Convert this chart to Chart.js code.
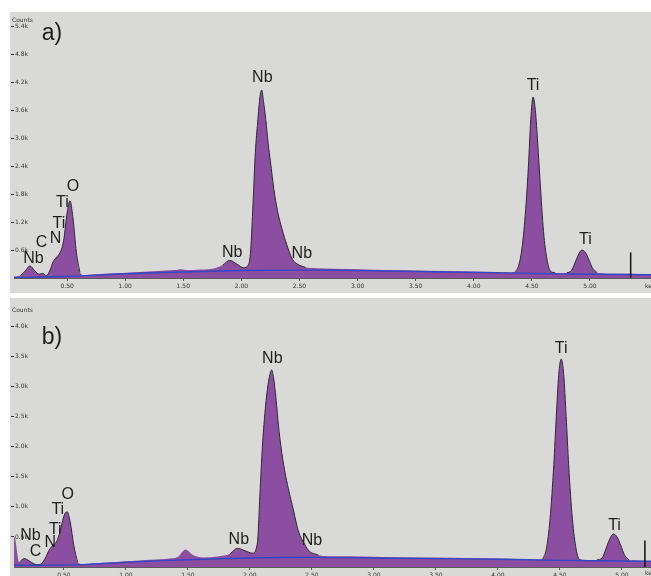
<!DOCTYPE html>
<html>
<head>
<meta charset="utf-8">
<script src="https://cdn.jsdelivr.net/npm/chart.js@4.4.1/dist/chart.umd.min.js"></script>
<style>
  body { margin: 0; background: #ffffff; width: 651px; height: 576px; overflow: hidden; position: relative; }
  canvas { position: absolute; }
  #edsA { left: 10px; top: 12px; }
  #edsB { left: 10px; top: 298px; }
</style>
</head>
<body>
<canvas id="edsA" width="641" height="281"></canvas>
<canvas id="edsB" width="641" height="278"></canvas>
<script>
// energy grid (keV), shared by both spectra
const energy = [0.00, 0.05, 0.10, 0.14, 0.18, 0.22, 0.26, 0.29, 0.32, 0.35, 0.38, 0.41, 0.44, 0.47, 0.50, 0.525, 0.55, 0.58, 0.61, 0.65,
  0.75, 0.90, 1.05, 1.20, 1.35, 1.42, 1.48, 1.54, 1.62, 1.75, 1.84, 1.90, 1.96, 2.02, 2.06, 2.08, 2.10, 2.12, 2.14, 2.16,
  2.175, 2.19, 2.21, 2.23, 2.25, 2.28, 2.31, 2.35, 2.39, 2.44, 2.48, 2.55, 2.65, 2.80, 3.00, 3.25, 3.50, 3.75, 4.00, 4.20,
  4.30, 4.36, 4.39, 4.42, 4.45, 4.47, 4.49, 4.51, 4.53, 4.55, 4.57, 4.60, 4.63, 4.66, 4.70, 4.76, 4.80, 4.84, 4.87, 4.90,
  4.93, 4.96, 4.99, 5.02, 5.06, 5.10, 5.20, 5.35, 5.55];

// counts (k) - spectrum a)
const countsA = [0.02, 0.03, 0.06, 0.15, 0.26, 0.16, 0.08, 0.10, 0.05, 0.15, 0.35, 0.45, 0.55, 0.80, 1.40, 1.66, 1.30, 0.55, 0.12, 0.06,
  0.08, 0.10, 0.12, 0.14, 0.16, 0.17, 0.19, 0.17, 0.18, 0.20, 0.28, 0.38, 0.30, 0.22, 0.28, 0.60, 1.60, 2.70, 3.35, 3.90,
  4.04, 3.80, 3.40, 2.90, 2.50, 1.90, 1.45, 1.05, 0.72, 0.40, 0.30, 0.23, 0.21, 0.20, 0.19, 0.17, 0.16, 0.15, 0.14, 0.13,
  0.12, 0.14, 0.30, 0.75, 1.60, 2.40, 3.40, 3.89, 3.60, 2.90, 2.10, 1.00, 0.40, 0.15, 0.11, 0.10, 0.11, 0.16, 0.32, 0.50,
  0.60, 0.55, 0.40, 0.22, 0.12, 0.10, 0.09, 0.09, 0.08];

// counts (k) - spectrum b)
const countsB = [0.05, 0.05, 0.50, 0.08, 0.14, 0.10, 0.05, 0.04, 0.06, 0.15, 0.28, 0.36, 0.42, 0.60, 0.85, 0.92, 0.75, 0.35, 0.08, 0.05,
  0.06, 0.08, 0.10, 0.12, 0.14, 0.17, 0.29, 0.20, 0.16, 0.18, 0.22, 0.31, 0.27, 0.23, 0.40, 1.20, 2.00, 2.55, 2.95, 3.20,
  3.28, 3.15, 2.80, 2.35, 2.00, 1.60, 1.30, 0.95, 0.60, 0.38, 0.26, 0.20, 0.18, 0.18, 0.17, 0.16, 0.16, 0.15, 0.14, 0.13,
  0.12, 0.13, 0.30, 0.80, 1.70, 2.50, 3.20, 3.46, 3.20, 2.50, 1.70, 0.80, 0.30, 0.12, 0.11, 0.11, 0.12, 0.15, 0.30, 0.46,
  0.55, 0.50, 0.36, 0.20, 0.11, 0.11, 0.10, 0.10, 0.10];

// fitted background (blue line)
const bgEnergy = [0.00, 0.30, 0.65, 1.00, 1.50, 2.00, 2.50, 3.00, 3.50, 4.00, 4.50, 5.00, 5.55];
const bgA = [0.01, 0.02, 0.05, 0.09, 0.13, 0.16, 0.17, 0.16, 0.14, 0.12, 0.10, 0.08, 0.07];
const bgB = [0.03, 0.03, 0.04, 0.08, 0.12, 0.15, 0.16, 0.15, 0.14, 0.13, 0.11, 0.10, 0.09];

// energy ranges where the peak outline is drawn
const fitRangesA = [[0.10, 0.64], [1.80, 2.62], [4.32, 4.70], [4.78, 5.08]];
const fitRangesB = [[0.14, 0.64], [1.80, 2.60], [4.32, 4.70], [4.78, 5.08]];

// peak labels
const labelTextA = ['Nb', 'C', 'N', 'Ti', 'Ti', 'O', 'Nb', 'Nb', 'Nb', 'Ti', 'Ti'];
const labelEA = [0.21, 0.28, 0.40, 0.43, 0.46, 0.55, 1.92, 2.18, 2.52, 4.51, 4.96];
const labelCA = [0.41, 0.77, 0.84, 1.18, 1.63, 1.96, 0.54, 4.30, 0.52, 4.13, 0.82];
const labelTextB = ['Nb', 'C', 'N', 'Ti', 'Ti', 'O', 'Nb', 'Nb', 'Nb', 'Ti', 'Ti'];
const labelEB = [0.23, 0.27, 0.39, 0.43, 0.45, 0.53, 1.91, 2.18, 2.50, 4.51, 4.94];
const labelCB = [0.52, 0.25, 0.41, 0.62, 0.96, 1.21, 0.46, 3.46, 0.44, 3.63, 0.69];

// cursor marker (keV, counts k)
const markerA = [5.35, 0.55];
const markerB = [5.185, 0.44];

// tick labels
const xTicks = [0.5, 1.0, 1.5, 2.0, 2.5, 3.0, 3.5, 4.0, 4.5, 5.0];
const xTickLabels = ['0.50', '1.00', '1.50', '2.00', '2.50', '3.00', '3.50', '4.00', '4.50', '5.00'];
const yTicksA = [0.6, 1.2, 1.8, 2.4, 3.0, 3.6, 4.2, 4.8, 5.4];
const yTickLabelsA = ['0.6k', '1.2k', '1.8k', '2.4k', '3.0k', '3.6k', '4.2k', '4.8k', '5.4k'];
const yTicksB = [0.5, 1.0, 1.5, 2.0, 2.5, 3.0, 3.5, 4.0];
const yTickLabelsB = ['0.5k', '1.0k', '1.5k', '2.0k', '2.5k', '3.0k', '3.5k', '4.0k'];

const PURPLE = '#8b4ea1';
const OUTLINE = '#2b2b2b';
const BLUE = '#3346c4';
const PANEL = '#d9dad8';

// labels, cursor and panel letters
const edsPlugin = {
    id: 'edsLabels',
    beforeDraw(chart) {
        const ctx = chart.ctx;
        ctx.save();
        ctx.fillStyle = PANEL;
        ctx.fillRect(0, 0, chart.width, chart.height);
        ctx.restore();
    },
    afterDatasetsDraw(chart, args, opts) {
        const ctx = chart.ctx;
        const xs = chart.scales.x;
        const ys = chart.scales.y;
        const area = chart.chartArea;
        ctx.save();

        // cursor line
        ctx.strokeStyle = '#111';
        ctx.lineWidth = 1.5;
        ctx.beginPath();
        ctx.moveTo(xs.getPixelForValue(opts.marker[0]), ys.getPixelForValue(0));
        ctx.lineTo(xs.getPixelForValue(opts.marker[0]), ys.getPixelForValue(opts.marker[1]));
        ctx.stroke();

        // element labels
        ctx.fillStyle = '#1e1e1e';
        ctx.font = '16px "Liberation Sans", Arial, sans-serif';
        ctx.textAlign = 'center';
        ctx.textBaseline = 'middle';
        opts.text.forEach((t, i) => {
            ctx.fillText(t, xs.getPixelForValue(opts.e[i]), ys.getPixelForValue(opts.c[i]));
        });

        // panel letter
        ctx.font = '23px "Liberation Sans", Arial, sans-serif';
        ctx.fillText(opts.letter, area.left + 38, area.top + opts.letterY);

        // "Counts" and "keV"
        ctx.font = '6px "DejaVu Sans", sans-serif';
        ctx.fillStyle = '#333';
        ctx.textAlign = 'left';
        ctx.textBaseline = 'top';
        ctx.fillText('Counts', area.left - 2, area.top + opts.countsY);
        ctx.textBaseline = 'middle';
        ctx.fillText('keV', area.right - 6, xs.bottom - opts.kevY);
        ctx.restore();
    }
};

function makeChart(id, counts, bg, fitRanges, panel) {
    const inFit = x => fitRanges.some(r => x >= r[0] && x <= r[1]);
    return new Chart(document.getElementById(id), {
        type: 'line',
        data: {
            datasets: [{
                label: 'Background',
                data: bgEnergy.map((e, i) => ({ x: e, y: bg[i] })),
                borderColor: BLUE,
                borderWidth: 1.4,
                pointRadius: 0,
                fill: false,
                tension: 0.3
            }, {
                label: 'Fit',
                data: energy.map((e, i) => ({ x: e, y: inFit(e) ? counts[i] : null })),
                borderColor: OUTLINE,
                borderWidth: 1,
                pointRadius: 0,
                fill: false,
                spanGaps: false,
                cubicInterpolationMode: 'monotone'
            }, {
                label: 'Spectrum',
                data: energy.map((e, i) => ({ x: e, y: counts[i] })),
                backgroundColor: PURPLE,
                borderWidth: 0,
                borderColor: PURPLE,
                pointRadius: 0,
                fill: 'origin',
                cubicInterpolationMode: 'monotone'
            }]
        },
        options: {
            responsive: false,
            animation: false,
            layout: { padding: 0 },
            plugins: {
                legend: { display: false },
                tooltip: { enabled: false },
                edsLabels: panel.labels
            },
            scales: {
                x: {
                    type: 'linear',
                    min: panel.xMin,
                    max: panel.xMax,
                    afterBuildTicks: s => { s.ticks = xTicks.map(v => ({ value: v })); },
                    afterFit: s => { s.height = panel.xHeight; },
                    ticks: {
                        autoSkip: false,
                        maxRotation: 0,
                        padding: 2,
                        color: '#333',
                        font: { family: 'DejaVu Sans', size: 6 },
                        callback: (v, i) => xTickLabels[i]
                    },
                    grid: { drawOnChartArea: false, tickLength: 3, color: '#555' },
                    border: { display: true, color: '#5a5a5a', width: 1 }
                },
                y: {
                    min: 0,
                    max: panel.yMax,
                    afterBuildTicks: s => { s.ticks = panel.yTicks.map(v => ({ value: v })); },
                    afterFit: s => { s.width = 4; },
                    ticks: {
                        mirror: true,
                        padding: 1,
                        color: '#333',
                        font: { family: 'DejaVu Sans', size: 6 },
                        callback: (v, i) => panel.yTickLabels[i]
                    },
                    grid: { drawOnChartArea: false, tickLength: 3, color: '#333' },
                    border: { display: false }
                }
            }
        },
        plugins: [edsPlugin]
    });
}

makeChart('edsA', countsA, bgA, fitRangesA, {
    xMin: 0.043, xMax: 5.525, yMax: 5.62, xHeight: 15,
    yTicks: yTicksA, yTickLabels: yTickLabelsA,
    labels: { text: labelTextA, e: labelEA, c: labelCA, marker: markerA, letter: 'a)', letterY: 17, countsY: 1, kevY: 7 }
});

makeChart('edsB', countsB, bgB, fitRangesB, {
    xMin: 0.097, xMax: 5.234, yMax: 4.40, xHeight: 9,
    yTicks: yTicksB, yTickLabels: yTickLabelsB,
    labels: { text: labelTextB, e: labelEB, c: labelCB, marker: markerB, letter: 'b)', letterY: 35, countsY: 5, kevY: 3 }
});
</script>
</body>
</html>
